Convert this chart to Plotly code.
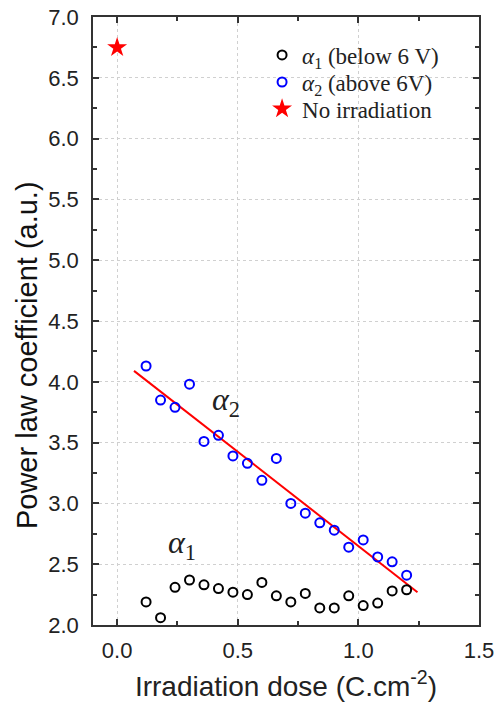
import plotly.graph_objects as go

dose = [0.12, 0.18, 0.24, 0.30, 0.36, 0.42, 0.48, 0.54, 0.60, 0.66,
        0.72, 0.78, 0.84, 0.90, 0.96, 1.02, 1.08, 1.14, 1.20]
alpha1 = [2.19, 2.06, 2.31, 2.37, 2.33, 2.30, 2.27, 2.25, 2.35, 2.24,
          2.19, 2.26, 2.14, 2.14, 2.24, 2.16, 2.18, 2.28, 2.29]
alpha2 = [4.13, 3.85, 3.79, 3.98, 3.51, 3.56, 3.39, 3.33, 3.19, 3.37,
          3.00, 2.92, 2.84, 2.78, 2.64, 2.70, 2.56, 2.52, 2.41]
noirr_x = [0.0]
noirr_y = [6.75]
fit_x = [0.07, 1.245]
fit_y = [4.09, 2.27]

serif = "Liberation Serif"
sans = "Liberation Sans"

fig = go.Figure()
fig.add_trace(go.Scatter(x=fit_x, y=fit_y, mode="lines",
                         line=dict(color="red", width=2), showlegend=False))
fig.add_trace(go.Scatter(x=dose, y=alpha1, mode="markers",
                         name="<i>α</i><sub>1</sub> (below 6 V)", legend="legend",
                         marker=dict(symbol="circle-open", size=9, color="black",
                                     line=dict(width=2, color="black"))))
fig.add_trace(go.Scatter(x=dose, y=alpha2, mode="markers",
                         name="<i>α</i><sub>2</sub> (above 6V)", legend="legend2",
                         marker=dict(symbol="circle-open", size=9, color="blue",
                                     line=dict(width=2, color="blue"))))
fig.add_trace(go.Scatter(x=noirr_x, y=noirr_y, mode="markers",
                         name="No irradiation", legend="legend3",
                         marker=dict(symbol="star", size=15, color="red",
                                     line=dict(width=0))))

axis_common = dict(
    showline=True, linecolor="#333", linewidth=1.5, mirror="ticks",
    ticks="inside", ticklen=6, tickcolor="#333", tickwidth=1.5,
    showgrid=True, gridcolor="#d0d0d0", griddash="dot", gridwidth=1,
    zeroline=False, automargin=False, ticklabeloverflow="allow",
    tickfont=dict(family=sans, size=22, color="#222"),
)

leg_common = dict(x=0.438, xanchor="left", yanchor="middle",
                  bgcolor="rgba(0,0,0,0)",
                  font=dict(family=serif, size=23, color="#222"),
                  itemwidth=30)

fig.update_layout(
    width=495, height=709,
    margin=dict(l=93, r=16, t=17, b=84),
    paper_bgcolor="white", plot_bgcolor="white",
    xaxis=dict(range=[-0.1, 1.5], tickvals=[0, 0.5, 1.0, 1.5],
               ticktext=["0.0", "0.5", "1.0", "1.5"],
               ticklabelstandoff=5,
               minor=dict(dtick=0.25, tick0=0, ticks="inside", ticklen=4,
                          tickcolor="#333", showgrid=False),
               title=dict(text="Irradiation dose (C.cm<sup>-2</sup>)",
                          font=dict(family=sans, size=28, color="#222"),
                          standoff=14),
               **axis_common),
    yaxis=dict(range=[2.0, 7.0], dtick=0.5, tick0=2.0, tickformat=".1f",
               ticklabelstandoff=8,
               minor=dict(dtick=0.25, tick0=2.0, ticks="inside", ticklen=4,
                          tickcolor="#333", showgrid=False),
               **axis_common),
    legend=dict(y=0.9375, **leg_common),
    legend2=dict(y=0.893, **leg_common),
    legend3=dict(y=0.849, **leg_common),
    annotations=[
        dict(x=0.45, y=3.84, text="<i>α</i><sub>2</sub>", showarrow=False,
             font=dict(family=serif, size=32, color="#222")),
        dict(x=0.27, y=2.66, text="<i>α</i><sub>1</sub>", showarrow=False,
             font=dict(family=serif, size=32, color="#222")),
        dict(xref="paper", yref="paper", x=-0.171, y=0.444,
             xanchor="center", yanchor="middle", textangle=-90,
             text="Power law coefficient (a.u.)", showarrow=False,
             font=dict(family=sans, size=29, color="#111")),
    ],
)

fig.write_html("out.html",
               config={"displayModeBar": False},
               post_script="document.body.style.margin='0';"
                           "document.body.style.overflow='hidden';")
